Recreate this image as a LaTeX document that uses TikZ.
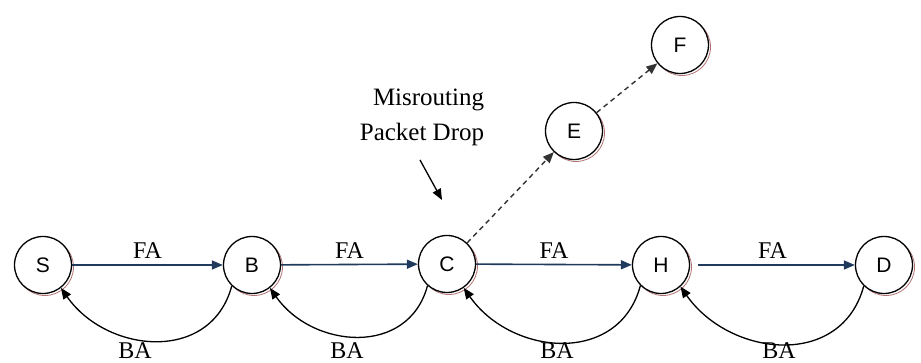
\documentclass[tikz,border=0pt]{standalone}
\usepackage{fontspec}
\setmainfont{Liberation Serif}
\newfontfamily\nodefont{Liberation Sans}
\usetikzlibrary{arrows.meta}
\definecolor{navy}{HTML}{1F3A5C}
\definecolor{rim}{HTML}{B27272}
\tikzset{
  x=1pt, y=1pt,
  station/.style={circle, draw=black, line width=1.3pt, fill=white,
    minimum size=57pt, inner sep=0pt,
    font=\nodefont\fontsize{21}{24}\selectfont,
    preaction={draw=rim, line width=0.8pt, fill=none,
      transform canvas={shift={(2pt,-2pt)}}}},
  tip/.style={-{Triangle[length=11pt,width=9pt]}},
  fwd/.style={tip, draw=navy, line width=1.6pt},
  back/.style={tip, draw=black, line width=1.3pt},
  stray/.style={tip, draw=black!80, line width=1.4pt, dash pattern=on 5pt off 4pt},
  lbl/.style={font=\fontsize{24}{28}\selectfont}
}
\begin{document}
\begin{tikzpicture}
\useasboundingbox (0,0) rectangle (921,363);

% stations
\node[station] (S) at (43,98)  {S};
\node[station] (B) at (252,98) {B};
\node[station] (C) at (447,99) {C};
\node[station] (H) at (661,98) {H};
\node[station] (D) at (884,98) {D};
\node[station] (E) at (574,232) {E};
\node[station] (F) at (680,318) {F};

% forward ants
\draw[fwd] (S) -- (B) node[lbl, midway, above=2pt] {FA};
\draw[fwd] (B) -- (C) node[lbl, midway, above=2pt] {FA};
\draw[fwd] (C) -- (H) node[lbl, midway, above=2pt] {FA};
\draw[fwd, shorten <=8pt] (H) -- (D) node[lbl, midway, above=2pt] {FA};

% backward ants
\draw[back] (B.226) to[out=-105, in=-55, looseness=1.2] (S.-52);
\draw[back] (C.228) to[out=-105, in=-55, looseness=1.2] (B.-52);
\draw[back] (H.225) to[out=-105, in=-55, looseness=1.2] (C.-55);
\draw[back] (D.226) to[out=-105, in=-55, looseness=1.2] (H.-48);

\node[lbl, anchor=base, inner sep=0pt] (ba1) at (135,4) {BA};
\node[lbl, anchor=base, inner sep=0pt] (ba2) at (347,4) {BA};
\node[lbl, anchor=base, inner sep=0pt] (ba3) at (557,4) {BA};
\node[lbl, anchor=base, inner sep=0pt] (ba4) at (779,4) {BA};

% misrouted path
\draw[stray] (C) -- (E);
\draw[stray] (E) -- (F);

% annotation
\node[font=\fontsize{25}{35}\selectfont, align=right] (mis) at (422,246)
  {Misrouting\\Packet Drop};
\coordinate (dropfrom) at (420,203);
\coordinate (dropat) at (442,163);
\draw[back] (dropfrom) -- (dropat);
\end{tikzpicture}
\end{document}
